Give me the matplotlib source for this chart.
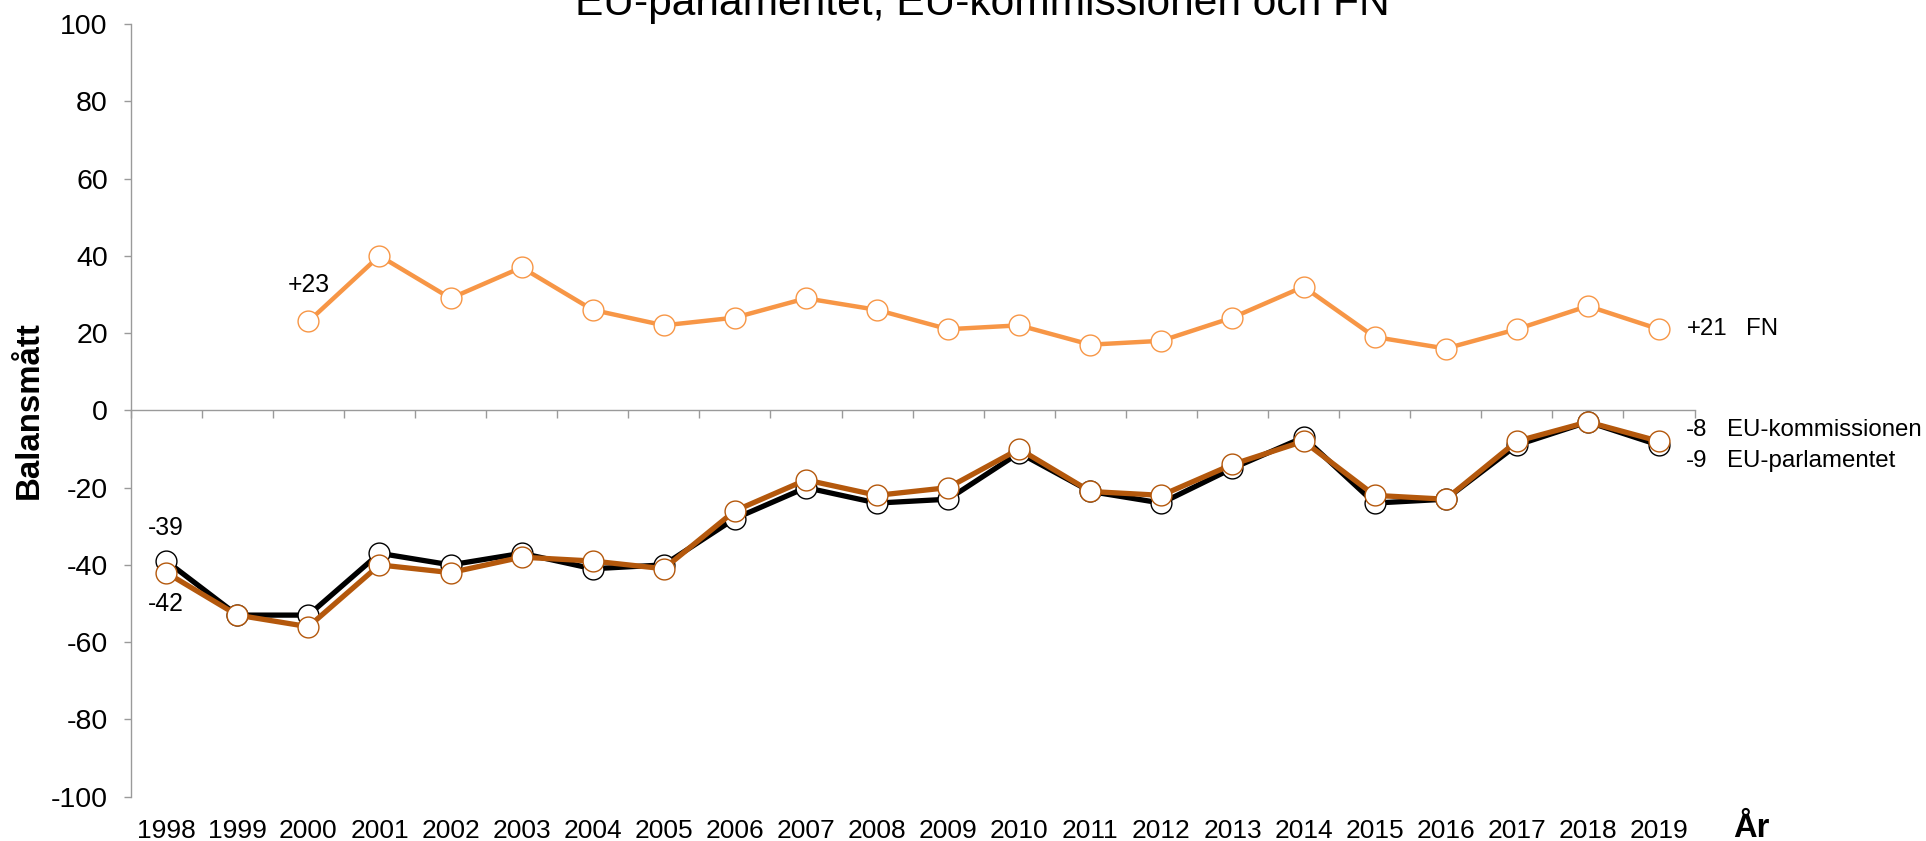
import matplotlib
matplotlib.use("Agg")
import matplotlib.pyplot as plt
import numpy as np

plt.rcParams['font.family'] = ['Liberation Sans', 'DejaVu Sans']

years = [str(y) for y in range(1998, 2020)]
fn_years = [str(y) for y in range(2000, 2020)]
fn = [23, 40, 29, 37, 26, 22, 24, 29, 26, 21, 22, 17, 18, 24, 32, 19, 16, 21, 27, 21]
eu_parl = [-39, -53, -53, -37, -40, -37, -41, -40, -28, -20, -24, -23, -11, -21, -24,
           -15, -7, -24, -23, -9, -3, -9]
eu_komm = [-42, -53, -56, -40, -42, -38, -39, -41, -26, -18, -22, -20, -10, -21, -22,
           -14, -8, -22, -23, -8, -3, -8]
title = "EU-parlamentet, EU-kommissionen och FN"
ylabel = "Balansmått"
xlabel = "År"
yticks = list(range(-100, 101, 20))

c_fn = '#F79646'
c_komm = '#B4580C'
c_parl = '#000000'
gray = '#9A9A9A'

W, H = 1926, 841
fig = plt.figure(figsize=(W / 100, H / 100), dpi=100)
ax = fig.add_axes([130.7 / W, 1 - 796.7 / H, (1694.5 - 130.7) / W, (796.7 - 24) / H])

x = np.arange(len(years))
xf = np.array([years.index(y) for y in fn_years])

ms = 15
ax.plot(x, eu_parl, color=c_parl, lw=3.8, marker='o', ms=ms, mfc='white',
        mec=c_parl, mew=1.0, zorder=3, clip_on=False)
ax.plot(x, eu_komm, color=c_komm, lw=3.8, marker='o', ms=ms, mfc='white',
        mec=c_komm, mew=1.0, zorder=4, clip_on=False)
ax.plot(xf, fn, color=c_fn, lw=3.2, marker='o', ms=ms, mfc='white',
        mec=c_fn, mew=1.0, zorder=5, clip_on=False)

ax.set_xlim(-0.5, len(years) - 0.5)
ax.set_ylim(-100, 100)
ax.set_yticks(yticks)
ax.set_yticklabels([str(t) for t in yticks])
ax.set_xticks(x)
ax.set_xticklabels(years)

for s in ['top', 'right', 'bottom']:
    ax.spines[s].set_visible(False)
ax.spines['left'].set_color(gray)
ax.spines['left'].set_linewidth(1.0)
ax.tick_params(axis='y', direction='out', length=5, width=1.0, color=gray,
               labelsize=20.5, pad=11.5)
ax.tick_params(axis='x', length=0, labelsize=19, pad=16)

# zero line axis with category-boundary ticks
sec = ax.secondary_xaxis(0.5)
sec.set_alignment('bottom')
sec.set_xticks(np.arange(len(years) + 1) - 0.5)
sec.tick_params(axis='x', direction='out', length=5.5, width=1.0, color=gray,
                labelbottom=False, labeltop=False)
sec.spines['bottom'].set_color(gray)
sec.spines['bottom'].set_linewidth(1.0)
sec.spines['top'].set_visible(False)

# labels
fig.text(29.5 / W, 1 - 410 / H, ylabel, rotation=90, ha='center', va='center',
         fontsize=23.8, fontweight='bold')
fig.text(1751 / W, 1 - 837 / H, xlabel, ha='center', va='baseline',
         fontsize=23.5, fontweight='bold')
fig.text(982 / W, 1 - 15 / H, title, ha='center', va='baseline', fontsize=30.6)

# start annotations
fs = 17.8
ax.annotate(str(eu_parl[0]), (x[0], eu_parl[0]), xytext=(0, 24), textcoords='offset points',
            ha='center', va='center', fontsize=fs)
ax.annotate(str(eu_komm[0]), (x[0], eu_komm[0]), xytext=(0, -22.5), textcoords='offset points',
            ha='center', va='center', fontsize=fs)
ax.annotate(f"{fn[0]:+d}", (xf[0], fn[0]), xytext=(0, 26), textcoords='offset points',
            ha='center', va='center', fontsize=fs)

# end annotations
fe = 17.3
ax.annotate(f"{fn[-1]:+d}", (xf[-1], fn[-1]), xytext=(20, 0), textcoords='offset points',
            ha='left', va='center', fontsize=fe, annotation_clip=False)
ax.annotate("FN", (xf[-1], fn[-1]), xytext=(63, 0), textcoords='offset points',
            ha='left', va='center', fontsize=fe, annotation_clip=False)
ax.annotate(str(eu_komm[-1]), (x[-1], -5), xytext=(19.5, 0), textcoords='offset points',
            ha='left', va='center', fontsize=fe, annotation_clip=False)
ax.annotate("EU-kommissionen", (x[-1], -5), xytext=(49, 0), textcoords='offset points',
            ha='left', va='center', fontsize=fe, annotation_clip=False)
ax.annotate(str(eu_parl[-1]), (x[-1], -13), xytext=(19.5, 0), textcoords='offset points',
            ha='left', va='center', fontsize=fe, annotation_clip=False)
ax.annotate("EU-parlamentet", (x[-1], -13), xytext=(49, 0), textcoords='offset points',
            ha='left', va='center', fontsize=fe, annotation_clip=False)

fig.savefig("out.png", dpi=100)
